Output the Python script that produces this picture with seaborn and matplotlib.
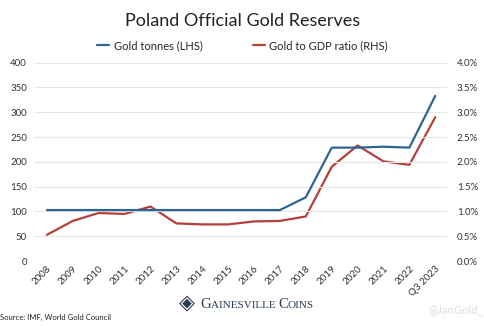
import matplotlib
matplotlib.use("Agg")
import matplotlib.pyplot as plt
import seaborn as sns
import pandas as pd
from matplotlib.ticker import FuncFormatter

years = ["2008", "2009", "2010", "2011", "2012", "2013", "2014", "2015", "2016",
         "2017", "2018", "2019", "2020", "2021", "2022", "Q3 2023"]
gold_tonnes = [102.9, 102.9, 102.9, 102.9, 102.9, 102.9, 102.9, 102.9, 102.9,
               102.9, 128.6, 228.6, 228.7, 230.5, 228.7, 333.0]
gold_gdp_ratio = [0.53, 0.81, 0.97, 0.95, 1.10, 0.76, 0.74, 0.74, 0.80,
                  0.81, 0.90, 1.90, 2.33, 2.01, 1.94, 2.90]

left_ticks = [0, 50, 100, 150, 200, 250, 300, 350, 400]
right_ticks = [0.0, 0.5, 1.0, 1.5, 2.0, 2.5, 3.0, 3.5, 4.0]

BLUE = "#2f6594"
RED = "#b4403c"
NAVY = "#2b3a52"

sns.set_theme(style="white")
plt.rcParams['font.family'] = ['Lato', 'DejaVu Sans']

df = pd.DataFrame({"x": range(len(years)), "tonnes": gold_tonnes, "ratio": gold_gdp_ratio})

fig = plt.figure(figsize=(4.85, 3.26), dpi=100)
ax = fig.add_axes([0.070, 0.199, 0.852, 0.609])
ax2 = ax.twinx()

sns.lineplot(data=df, x="x", y="tonnes", ax=ax, color=BLUE, lw=1.6, label="Gold tonnes (LHS)", legend=False)
sns.lineplot(data=df, x="x", y="ratio", ax=ax2, color=RED, lw=1.6, label="Gold to GDP ratio (RHS)", legend=False)

ax.set_ylim(0, 400)
ax2.set_ylim(0, 4.0)
ax.set_xlim(-0.5, len(years) - 0.54)
ax.set_yticks(left_ticks)
ax2.set_yticks(right_ticks)
ax2.yaxis.set_major_formatter(FuncFormatter(lambda v, p: f"{v:.1f}%"))
ax.set_xticks(range(len(years)))
ax.set_xticklabels(years, rotation=45, ha="right", rotation_mode="anchor")

for a in (ax, ax2):
    for s in a.spines.values():
        s.set_visible(False)
    a.tick_params(length=0, labelsize=7, colors="#333333")
    a.set_xlabel("")
    a.set_ylabel("")
ax.tick_params(axis="y", pad=5)
ax2.tick_params(axis="y", pad=7)
ax.tick_params(axis="x", pad=2)
ax2.grid(False)
ax.grid(axis="y", color="#e6e6e6", lw=0.8)
ax.grid(axis="x", visible=False)
ax.set_zorder(ax2.get_zorder() + 1)
ax.patch.set_visible(False)

fig.text(0.5, 0.937, "Poland Official Gold Reserves", ha="center", va="center",
         fontsize=13, color="#222222")

h1 = ax.get_lines()[0]
h2 = ax2.get_lines()[0]
fig.legend([h1, h2], ["Gold tonnes (LHS)", "Gold to GDP ratio (RHS)"],
           loc="center", bbox_to_anchor=(0.5, 0.86), ncol=2, frameon=False,
           fontsize=8, handlelength=1.1, columnspacing=4.5, handletextpad=0.4)

# Logo: small-caps "GAINESVILLE COINS"
fig.canvas.draw()
renderer = fig.canvas.get_renderer()
serif = ["Liberation Serif", "DejaVu Serif"]
pieces = [("G", 10.5), ("AINESVILLE ", 8), ("C", 10.5), ("OINS", 8)]
x0 = 200 / 485
y0 = 0.055
inv = fig.transFigure.inverted()
xcur = x0
for txt, fs in pieces:
    t = fig.text(xcur, y0, txt, ha="left", va="baseline", fontsize=fs, color=NAVY, family=serif)
    bb = t.get_window_extent(renderer=renderer)
    w = inv.transform((bb.width, 0))[0] - inv.transform((0, 0))[0]
    xcur += w
fig.text(187 / 485, 0.07, "\u25c8", ha="center", va="center", fontsize=15, color=NAVY,
         family=["DejaVu Sans"])
fig.text(0.0, 0.025, "Source: IMF, World Gold Council", ha="left", va="center",
         fontsize=5.5, color="#222222")
fig.text(0.995, 0.05, "@JanGold_", ha="right", va="center", fontsize=8, color="#dddddd")

fig.savefig("out.png", dpi=100)
